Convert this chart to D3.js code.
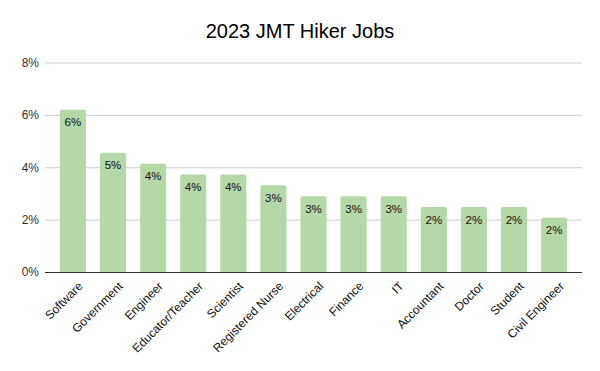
<!DOCTYPE html>
<html>
<head>
<meta charset="utf-8">
<script src="https://cdn.jsdelivr.net/npm/d3@7"></script>
<style>
  body { margin: 0; background: #fff; }
  text { font-family: "Liberation Sans", Arial, sans-serif; }
</style>
</head>
<body>
<div id="chart"></div>
<script>
// Chart data
const jobs = ["Software", "Government", "Engineer", "Educator/Teacher", "Scientist",
    "Registered Nurse", "Electrical", "Finance", "IT", "Accountant", "Doctor", "Student", "Civil Engineer"];
const shares = [6.2, 4.55, 4.13, 3.72, 3.72, 3.31, 2.89, 2.89, 2.89, 2.48, 2.48, 2.48, 2.07];
const yTicks = [0, 2, 4, 6, 8];

const width = 600;
const height = 371;
const margin = { top: 62.5, right: 18, bottom: 99, left: 45 };

const svg = d3.select("#chart")
    .append("svg")
    .attr("width", width)
    .attr("height", height);

// Scales
const x = d3.scaleBand()
    .domain(jobs)
    .range([margin.left, width - margin.right])
    .paddingInner(0.35)
    .paddingOuter(0.37);

const y = d3.scaleLinear()
    .domain([0, 8])
    .range([height - margin.bottom, margin.top]);

// Title
svg.append("text")
    .attr("x", width / 2)
    .attr("y", 38)
    .attr("text-anchor", "middle")
    .style("font-size", "20px")
    .style("fill", "#000")
    .text("2023 JMT Hiker Jobs");

// Gridlines + y labels
const yAxis = svg.append("g")
    .attr("transform", `translate(${margin.left}, 0)`)
    .call(d3.axisLeft(y)
        .tickValues(yTicks)
        .tickSize(-(width - margin.left - margin.right))
        .tickPadding(6)
        .tickFormat(d => d + "%"));
yAxis.select(".domain").remove();
yAxis.selectAll(".tick line").attr("stroke", "#cccccc");
yAxis.selectAll(".tick text")
    .attr("font-family", null)
    .style("font-size", "12px")
    .style("fill", "#333");

// Bars (rounded top corners)
const barPath = d => {
    const x0 = x(d.job), w = x.bandwidth();
    const y0 = y(d.value), yb = y(0), r = 2;
    return `M${x0},${yb} V${y0 + r} Q${x0},${y0} ${x0 + r},${y0} H${x0 + w - r} Q${x0 + w},${y0} ${x0 + w},${y0 + r} V${yb} Z`;
};
const rows = jobs.map((job, i) => ({ job: job, value: shares[i] }));

svg.selectAll("path.bar")
    .data(rows)
    .enter()
    .append("path")
    .attr("class", "bar")
    .attr("d", barPath)
    .attr("fill", "#b6d7a8");

// Value labels inside the bars
svg.selectAll("text.value")
    .data(rows)
    .enter()
    .append("text")
    .attr("class", "value")
    .attr("x", d => x(d.job) + x.bandwidth() / 2)
    .attr("y", d => y(d.value) + 16.5)
    .attr("text-anchor", "middle")
    .style("font-size", "11.5px")
    .style("fill", "#111")
    .text(d => Math.round(d.value) + "%");

// X axis
const xAxis = svg.append("g")
    .attr("transform", `translate(0, ${y(0)})`)
    .call(d3.axisBottom(x).tickSize(0).tickPadding(8));
xAxis.select(".domain")
    .attr("stroke", "#333")
    .attr("d", `M${margin.left},0.5H${width - margin.right}`);
xAxis.selectAll(".tick text")
    .attr("font-family", null)
    .style("font-size", "12px")
    .style("fill", "#111")
    .attr("text-anchor", "end")
    .attr("dx", "-3")
    .attr("dy", "10")
    .attr("transform", "rotate(-45)");
</script>
</body>
</html>
